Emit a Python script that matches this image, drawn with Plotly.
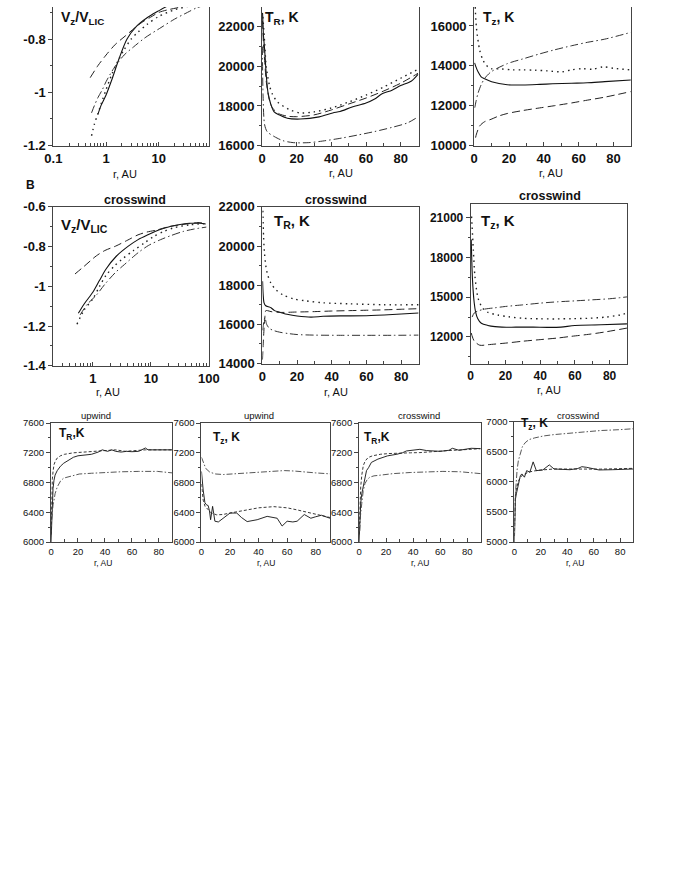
import plotly.graph_objects as go

W, H = 680, 880

# ---------------- DATA ----------------
# Row A (upwind) : V_z/V_LIC vs r (log)
a1_solid_r = [0.7, 0.8, 1.0, 1.3, 1.76, 2.5, 3.84, 6, 9.6, 15, 25, 40, 60]
a1_solid_v = [-1.083, -1.05, -1.01, -0.95, -0.874, -0.80, -0.751, -0.72, -0.696, -0.675, -0.66, -0.65, -0.645]
a1_dash_r = [0.5, 0.7, 1.0, 1.5, 2.33, 3.55, 5, 7, 10, 15, 22, 40, 60]
a1_dash_v = [-0.945, -0.90, -0.86, -0.82, -0.788, -0.757, -0.735, -0.718, -0.70, -0.69, -0.683, -0.67, -0.66]
a1_dot_r = [0.53, 0.6, 0.7, 0.85, 1.0, 1.3, 1.7, 2.2, 3, 4, 6, 10, 20, 40, 60]
a1_dot_v = [-1.163, -1.12, -1.08, -1.03, -0.99, -0.93, -0.88, -0.84, -0.80, -0.775, -0.745, -0.715, -0.69, -0.675, -0.665]
a1_dd_r = [0.53, 0.6, 0.7, 0.85, 1.0, 1.4, 2.2, 3.3, 5.5, 11, 20, 35, 52, 70]
a1_dd_v = [-1.077, -1.05, -1.02, -0.99, -0.96, -0.91, -0.86, -0.83, -0.795, -0.757, -0.725, -0.70, -0.683, -0.675]

# Row A : T_R
a2_solid_r = [0.3, 0.8, 1.5, 2.5, 3.4, 5, 7, 10, 14.6, 22, 33, 40.8, 45, 52, 60, 65, 69, 75, 80, 86, 90]
a2_solid_t = [22700, 21600, 20850, 19500, 18700, 18100, 17700, 17550, 17380, 17340, 17450, 17650, 17720, 17950, 18150, 18350, 18600, 18800, 19030, 19250, 19600]
a2_dash_r = [0.3, 0.8, 1.5, 2.5, 4, 6, 10, 15, 20, 30, 40, 50, 60, 70, 80, 90]
a2_dash_t = [22300, 21200, 20300, 19200, 18400, 17900, 17600, 17480, 17460, 17550, 17800, 18100, 18400, 18750, 19150, 19650]
a2_dot_r = [0.5, 1.5, 2.4, 4.3, 6, 9, 16.5, 22, 30, 40, 50, 60, 70, 80, 90]
a2_dot_t = [22500, 21200, 20000, 19030, 18600, 18200, 17790, 17650, 17700, 17900, 18200, 18550, 18950, 19400, 19850]
a2_dd_r = [0.2, 0.6, 1.5, 3, 7, 12, 18, 27, 35, 46, 55, 65, 75, 84, 90]
a2_dd_t = [21000, 18500, 17050, 16700, 16460, 16250, 16150, 16150, 16230, 16380, 16530, 16710, 16920, 17150, 17450]

# Row A : T_z
a3_solid_r = [0.2, 1, 2.2, 4, 6, 10, 19, 28, 37.6, 45, 56, 65, 75, 90]
a3_solid_t = [14150, 13950, 13700, 13450, 13350, 13200, 13050, 13040, 13070, 13100, 13130, 13150, 13210, 13290]
a3_dot_r = [0.3, 1.3, 3.2, 5, 6.9, 9.7, 15, 22, 28, 35, 42, 50.6, 56, 62, 68, 74, 80, 90]
a3_dot_t = [17500, 15900, 14770, 14300, 14030, 13860, 13850, 13800, 13800, 13780, 13750, 13700, 13800, 13860, 13830, 13950, 13880, 13800]
a3_dd_r = [0.3, 1, 2.2, 4, 6, 9.7, 19, 28, 37.6, 46, 56, 65, 75, 90]
a3_dd_t = [11900, 12200, 12630, 13050, 13370, 13700, 14110, 14350, 14600, 14800, 15010, 15180, 15340, 15680]
a3_dash_r = [0.8, 1.3, 3.2, 6, 9.7, 14, 19, 28, 37.6, 46, 56, 65, 75, 90]
a3_dash_t = [10400, 10580, 10990, 11200, 11320, 11480, 11610, 11760, 11890, 12000, 12140, 12280, 12430, 12710]

# Row B (crosswind) : V_z/V_LIC
b1_solid_r = [0.56, 0.7, 1, 1.3, 1.67, 2.5, 4.07, 6, 8.8, 14, 21.5, 30, 46, 70, 88]
b1_solid_v = [-1.136, -1.09, -1.029, -0.97, -0.914, -0.85, -0.798, -0.765, -0.741, -0.715, -0.699, -0.69, -0.683, -0.683, -0.686]
b1_dash_r = [0.49, 0.7, 1.14, 1.6, 2.45, 4, 5.98, 8.5, 12.9, 20, 31.6, 50, 68, 88]
b1_dash_v = [-0.938, -0.90, -0.847, -0.82, -0.798, -0.767, -0.741, -0.727, -0.716, -0.70, -0.691, -0.683, -0.679, -0.684]
b1_dot_r = [0.53, 0.7, 1, 1.3, 1.67, 2.3, 3.16, 5, 7.7, 11, 16.6, 25, 46, 88]
b1_dot_v = [-1.191, -1.12, -1.062, -1.0, -0.946, -0.90, -0.864, -0.82, -0.782, -0.75, -0.724, -0.705, -0.691, -0.684]
b1_dd_r = [0.6, 0.8, 1.14, 1.6, 2.45, 3.5, 6, 9, 14.7, 22, 35.9, 55, 90]
b1_dd_v = [-1.144, -1.09, -1.045, -0.99, -0.93, -0.89, -0.831, -0.795, -0.765, -0.745, -0.724, -0.712, -0.702]

# Row B : T_R
b2_solid_r = [0.15, 0.5, 1, 2, 3.5, 5, 7, 10, 15, 20, 28, 35, 45, 60, 75, 90]
b2_solid_t = [18200, 17500, 17100, 16950, 16900, 16850, 16700, 16620, 16500, 16430, 16370, 16410, 16430, 16440, 16500, 16580]
b2_dash_r = [0.1, 0.5, 1, 1.5, 2, 3, 5, 10, 20, 30, 40, 50, 60, 70, 80, 90]
b2_dash_t = [14200, 15000, 15800, 16400, 16700, 16700, 16650, 16610, 16630, 16650, 16680, 16700, 16720, 16740, 16770, 16800]
b2_dot_r = [0.3, 0.7, 1.2, 2, 3, 5, 8, 12, 18, 25, 35, 50, 70, 90]
b2_dot_t = [21800, 20500, 19700, 19000, 18550, 18100, 17750, 17500, 17300, 17200, 17100, 17050, 17000, 17000]
b2_dd_r = [0.2, 0.8, 1.5, 2.5, 4, 6, 10, 15, 20, 30, 45, 60, 75, 90]
b2_dd_t = [15700, 16100, 16350, 16000, 15800, 15700, 15600, 15530, 15480, 15450, 15440, 15440, 15440, 15450]

# Row B : T_z
b3_solid_r = [0.3, 1, 2, 2.8, 4, 6.1, 9.9, 14, 18, 26, 36, 45, 52, 60, 75, 90]
b3_solid_t = [19350, 16380, 14600, 13900, 13400, 13040, 12870, 12780, 12740, 12740, 12740, 12720, 12740, 12870, 12920, 12990]
b3_dot_r = [0.5, 1.5, 2.4, 4.3, 7, 10, 15.5, 22, 30, 40, 49, 58, 68, 78, 86, 90]
b3_dot_t = [21080, 18600, 16630, 14900, 14150, 13850, 13660, 13520, 13410, 13370, 13360, 13380, 13410, 13500, 13660, 13800]
b3_dd_r = [0.8, 2, 4, 8, 14, 20, 30, 40, 50, 60, 70, 80, 90]
b3_dd_t = [13500, 13800, 13950, 14100, 14200, 14300, 14420, 14550, 14650, 14720, 14800, 14880, 15020]
b3_dash_r = [0.3, 1, 2, 5.2, 10, 21, 30, 40, 50, 58, 68, 77, 90]
b3_dash_t = [12300, 12000, 11700, 11380, 11420, 11550, 11680, 11800, 11920, 12050, 12200, 12370, 12670]

# Row C : upwind T_R
c1_solid_r = [0, 0.3, 0.6, 1, 1.5, 2.2, 3, 4.6, 7, 9.4, 13, 16.6, 20, 25, 30, 35, 38, 42, 45, 48, 52, 56, 60, 65, 68, 70, 72, 76, 80, 85, 90]
c1_solid_t = [6000, 6200, 6450, 6600, 6720, 6830, 6900, 6960, 7020, 7060, 7100, 7140, 7160, 7170, 7180, 7210, 7240, 7220, 7240, 7220, 7210, 7220, 7215, 7220, 7250, 7265, 7240, 7240, 7245, 7240, 7240]
c1_dash_r = [0, 0.3, 0.6, 1, 1.5, 2.2, 3.2, 4.6, 7, 10, 16.6, 25, 31, 40, 48, 55, 62, 70, 80, 90]
c1_dash_t = [6100, 6450, 6700, 6850, 6950, 7040, 7090, 7130, 7160, 7180, 7200, 7210, 7225, 7230, 7240, 7220, 7230, 7240, 7240, 7240]
c1_dd_r = [0.5, 1, 1.5, 2.2, 3, 4.6, 7, 9.4, 15, 21, 30, 40, 52, 65, 79, 90]
c1_dd_t = [6300, 6450, 6500, 6560, 6650, 6740, 6820, 6860, 6890, 6915, 6925, 6935, 6945, 6950, 6950, 6930]

# Row C : upwind T_z
c2_solid_r = [0, 0.6, 1.2, 2.4, 3.5, 4.7, 5.6, 6.4, 7.2, 7.8, 8.6, 9.4, 11.8, 15.3, 18, 20, 24.7, 28, 32, 39, 46, 53, 56.5, 60, 64, 67, 72, 76.6, 80, 84, 90]
c2_solid_t = [6950, 6800, 6700, 6530, 6500, 6490, 6420, 6300, 6400, 6480, 6380, 6280, 6270, 6320, 6370, 6390, 6390, 6330, 6275, 6300, 6345, 6320, 6215, 6280, 6270, 6280, 6370, 6320, 6340, 6360, 6320]
c2_dash_r = [0, 0.6, 1.2, 2.5, 4.7, 7, 10.6, 15, 20, 32, 40, 50.6, 60, 67, 75, 82, 90]
c2_dash_t = [6780, 6650, 6564, 6480, 6432, 6390, 6366, 6370, 6390, 6432, 6460, 6476, 6460, 6432, 6400, 6370, 6330]
c2_dd_r = [0, 1.2, 3, 5.9, 10, 15.3, 25, 34, 45, 58, 65, 72, 80, 90]
c2_dd_t = [7140, 7071, 6990, 6939, 6915, 6908, 6920, 6939, 6950, 6961, 6955, 6939, 6930, 6917]

# Row C : crosswind T_R
c3_solid_r = [0, 0.5, 1.2, 2, 3.1, 4.2, 5.5, 7, 9.1, 13.9, 21, 28, 32, 35, 40, 45, 50, 54.6, 60, 66.5, 69, 74, 78, 83, 90]
c3_solid_t = [6000, 6300, 6520, 6650, 6740, 6850, 6961, 7000, 7071, 7115, 7159, 7181, 7200, 7225, 7240, 7247, 7230, 7225, 7220, 7234, 7261, 7234, 7245, 7261, 7256]
c3_dash_r = [0, 0.5, 1.2, 2, 3.1, 4.5, 6.7, 10, 16, 22, 30.6, 38, 45, 52, 59, 66, 74, 82, 90]
c3_dash_t = [6100, 6500, 6740, 6900, 7027, 7090, 7137, 7160, 7181, 7190, 7190, 7200, 7203, 7215, 7225, 7230, 7238, 7245, 7256]
c3_dd_r = [0.5, 1, 2, 3, 4.3, 6, 7.9, 11, 16, 25, 37.8, 50, 62, 75, 83, 90]
c3_dd_t = [6150, 6350, 6520, 6680, 6784, 6840, 6872, 6890, 6900, 6920, 6935, 6945, 6950, 6945, 6935, 6920]

# Row C : crosswind T_z
c4_solid_r = [0, 0.7, 1.5, 3.2, 4.5, 5.6, 7.6, 9.3, 11.7, 14.2, 16.6, 21.5, 26.4, 30, 36, 42, 48, 51, 54.5, 60, 64, 74, 82, 90]
c4_solid_t = [5000, 5700, 5800, 5967, 6100, 6130, 6076, 6185, 6158, 6330, 6185, 6196, 6280, 6212, 6210, 6200, 6220, 6250, 6240, 6210, 6196, 6200, 6205, 6212]
c4_dash_r = [0, 0.7, 1.5, 3.2, 5.6, 10.5, 15, 20, 30, 40, 54.5, 65, 75, 90]
c4_dash_t = [5100, 5750, 5880, 6022, 6103, 6158, 6180, 6195, 6212, 6210, 6200, 6210, 6215, 6223]
c4_dd_r = [0, 0.8, 2, 3, 4.4, 6, 8.1, 11, 15.4, 22, 30, 40, 54.5, 65, 79, 90]
c4_dd_t = [5300, 5800, 6185, 6350, 6457, 6580, 6647, 6700, 6728, 6760, 6783, 6805, 6837, 6850, 6864, 6880]

# ---------------- STYLES ----------------
FONT = "Liberation Sans, Arial, sans-serif"
INK = "#111"
STY = {
    "solid": dict(color="#111", width=1.1, dash="solid"),
    "dash": dict(color="#222", width=1.0, dash="8px,4px"),
    "dot": dict(color="#222", width=1.4, dash="1.5px,4px"),
    "dd": dict(color="#333", width=1.0, dash="8px,3px,1.5px,3px"),
    "cdash": dict(color="#222", width=0.9, dash="3px,2px"),
    "cdd": dict(color="#444", width=0.9, dash="6px,2px,1.5px,2px"),
    "csolid": dict(color="#111", width=0.9, dash="solid"),
}

# panel geometry in pixels: left, right, top, bottom
panels = [
    dict(g=(45.7, 205.7, 0, 141), xtype="log", xr=[-1, 1.946], yr=[-1.2, -1.2 + 141 / 271.0],
         yt=[-1.2, -1.0, -0.8], ytt=["-1.2", "-1", "-0.8"], ymin=0.1, top=False, fs=13,
         series=[(a1_solid_r, a1_solid_v, "solid"), (a1_dash_r, a1_dash_v, "dash"),
                 (a1_dot_r, a1_dot_v, "dot"), (a1_dd_r, a1_dd_v, "dd")], spline=True),
    dict(g=(260.7, 422.3, 0, 141), xtype="linear", xr=[0, 90.5], yr=[16000, 16000 + 141 / 20.15 * 1000],
         yt=[16000, 18000, 20000, 22000], ytt=None, ymin=1000, top=False, fs=13,
         series=[(a2_solid_r, a2_solid_t, "solid"), (a2_dash_r, a2_dash_t, "dash"),
                 (a2_dot_r, a2_dot_t, "dot"), (a2_dd_r, a2_dd_t, "dd")], spline=True),
    dict(g=(479.3, 640.7, 0, 141), xtype="linear", xr=[0, 90], yr=[10000, 10000 + 141 / 20.28 * 1000],
         yt=[10000, 12000, 14000, 16000], ytt=None, ymin=1000, top=False, fs=13,
         series=[(a3_solid_r, a3_solid_t, "solid"), (a3_dash_r, a3_dash_t, "dash"),
                 (a3_dot_r, a3_dot_t, "dot"), (a3_dd_r, a3_dd_t, "dd")], spline=True),
    dict(g=(45.7, 206, 203.3, 365), xtype="log", xr=[-0.683, 2.0], yr=[-1.4, -0.6],
         yt=[-1.4, -1.2, -1.0, -0.8, -0.6], ytt=["-1.4", "-1.2", "-1", "-0.8", "-0.6"], ymin=0.1, top=True, fs=13,
         series=[(b1_solid_r, b1_solid_v, "solid"), (b1_dash_r, b1_dash_v, "dash"),
                 (b1_dot_r, b1_dot_v, "dot"), (b1_dd_r, b1_dd_v, "dd")], spline=True),
    dict(g=(261, 422, 203.3, 362.7), xtype="linear", xr=[0, 90], yr=[14000, 22000],
         yt=[14000, 16000, 18000, 20000, 22000], ytt=None, ymin=1000, top=True, fs=13,
         series=[(b2_solid_r, b2_solid_t, "solid"), (b2_dash_r, b2_dash_t, "dash"),
                 (b2_dot_r, b2_dot_t, "dot"), (b2_dd_r, b2_dd_t, "dd")], spline=True),
    dict(g=(475.7, 636.7, 200.7, 362.7), xtype="linear", xr=[0, 90], yr=[10000, 22000],
         yt=[12000, 15000, 18000, 21000], ytt=None, ymin=1500, top=True, fs=12,
         series=[(b3_solid_r, b3_solid_t, "solid"), (b3_dash_r, b3_dash_t, "dash"),
                 (b3_dot_r, b3_dot_t, "dot"), (b3_dd_r, b3_dd_t, "dd")], spline=True),
    dict(g=(43.3, 168.3, 423.3, 544.3), xtype="linear", xr=[0, 90], yr=[6000, 7600],
         yt=[6000, 6400, 6800, 7200, 7600], ytt=None, ymin=200, top=True, fs=9.5,
         series=[(c1_solid_r, c1_solid_t, "csolid"), (c1_dash_r, c1_dash_t, "cdash"),
                 (c1_dd_r, c1_dd_t, "cdd")], spline=False),
    dict(g=(198.3, 330.7, 423.3, 544.3), xtype="linear", xr=[0, 90], yr=[6000, 7600],
         yt=[6000, 6400, 6800, 7200, 7600], ytt=None, ymin=200, top=True, fs=9.5,
         series=[(c2_solid_r, c2_solid_t, "csolid"), (c2_dash_r, c2_dash_t, "cdash"),
                 (c2_dd_r, c2_dd_t, "cdd")], spline=False),
    dict(g=(360.7, 486, 423.3, 544.3), xtype="linear", xr=[0, 90], yr=[6000, 7600],
         yt=[6000, 6400, 6800, 7200, 7600], ytt=None, ymin=200, top=True, fs=9.5,
         series=[(c3_solid_r, c3_solid_t, "csolid"), (c3_dash_r, c3_dash_t, "cdash"),
                 (c3_dd_r, c3_dd_t, "cdd")], spline=False),
    dict(g=(520.7, 643.3, 421.7, 544.3), xtype="linear", xr=[0, 90], yr=[5000, 7000],
         yt=[5000, 5500, 6000, 6500, 7000], ytt=None, ymin=250, top=True, fs=9.5,
         series=[(c4_solid_r, c4_solid_t, "csolid"), (c4_dash_r, c4_dash_t, "cdash"),
                 (c4_dd_r, c4_dd_t, "cdd")], spline=False),
]

fig = go.Figure()
layout = dict(width=W, height=H, margin=dict(l=0, r=0, t=0, b=0),
              paper_bgcolor="white", plot_bgcolor="white", showlegend=False,
              font=dict(family=FONT, color=INK, size=12))

for i, p in enumerate(panels, 1):
    l, r, t, b = p["g"]
    sfx = "" if i == 1 else str(i)
    bold = "bold" if p["fs"] > 11 else "normal"
    tf = dict(family=FONT, size=p["fs"], color=INK, weight=bold)
    xa = dict(domain=[l / W, r / W], range=p["xr"], type=p["xtype"], anchor="y" + sfx,
              showgrid=False, zeroline=False, showline=True, linecolor="#444", linewidth=1,
              mirror=p["top"], ticks="inside", ticklen=4, tickcolor="#444", tickfont=tf,
              ticklabelstandoff=1)
    if p["xtype"] == "log":
        xa.update(dtick=1, minor=dict(dtick="D1", ticks="inside", ticklen=3, tickcolor="#444"))
    else:
        xa.update(dtick=20, tick0=0, tickformat="d",
                  minor=dict(dtick=10, tick0=0, ticks="inside", ticklen=3, tickcolor="#444"))
    ytt = p["ytt"] if p["ytt"] else [str(v) for v in p["yt"]]
    ya = dict(domain=[1 - b / H, 1 - t / H], range=p["yr"], anchor="x" + sfx,
              showgrid=False, zeroline=False, showline=True, linecolor="#444", linewidth=1,
              mirror=True, ticks="outside", ticklen=4, tickcolor="#444", tickfont=tf,
              tickvals=p["yt"], ticktext=ytt,
              minor=dict(dtick=p["ymin"], tick0=0, ticks="outside", ticklen=2, tickcolor="#444"))
    layout["xaxis" + sfx] = xa
    layout["yaxis" + sfx] = ya
    for xs, ys, st in p["series"]:
        fig.add_trace(go.Scatter(x=xs, y=ys, mode="lines", xaxis="x" + sfx, yaxis="y" + sfx,
                                 line=dict(**STY[st], shape="spline" if p["spline"] else "linear",
                                           smoothing=0.8 if p["spline"] else None),
                                 hoverinfo="skip"))

ann = []
def A(x, y, text, size, bold=True, xanchor="left", yanchor="middle"):
    ann.append(dict(xref="paper", yref="paper", x=x / W, y=1 - y / H, text=text, showarrow=False,
                    xanchor=xanchor, yanchor=yanchor,
                    font=dict(family=FONT, size=size, color=INK, weight="bold" if bold else "normal")))

# Row A labels (at the very top of the picture)
A(52, 0, "V<sub>z</sub>/V<sub>LIC</sub>", 14, yanchor="top")
A(262, 0, "T<sub>R</sub>, K", 14, yanchor="top")
A(486, 0, "T<sub>z</sub>, K", 14, yanchor="top")
A(120, 170, "r, AU", 11, bold=False, xanchor="center")
A(342, 169, "r, AU", 11, bold=False, xanchor="center")
A(558, 169, "r, AU", 11, bold=False, xanchor="center")

# Row B
A(15, 181, "B", 12)
A(130, 196.5, "crosswind", 12.5, xanchor="center")
A(337, 196.5, "crosswind", 12.5, xanchor="center")
A(557, 192.5, "crosswind", 12.5, xanchor="center")
A(52, 222, "V<sub>z</sub>/V<sub>LIC</sub>", 15)
A(271, 218, "T<sub>R</sub>, K", 15)
A(484, 218, "T<sub>z</sub>, K", 15)
A(102, 391.5, "r, AU", 11, bold=False, xanchor="center")
A(337, 391.5, "r, AU", 11, bold=False, xanchor="center")
A(556, 389.5, "r, AU", 11, bold=False, xanchor="center")

# Row C
A(90, 416, "upwind", 9.5, bold=False, xanchor="center")
A(258, 416, "upwind", 9.5, bold=False, xanchor="center")
A(422, 416, "crosswind", 9.5, bold=False, xanchor="center")
A(586, 416, "crosswind", 9.5, bold=False, xanchor="center")
A(49, 434, "T<sub>R</sub>,K", 12)
A(208, 438, "T<sub>z</sub>, K", 12)
A(364, 438, "T<sub>R</sub>,K", 12)
A(525, 424, "T<sub>z</sub>, K", 12)
A(97, 566, "r, AU", 8.5, bold=False, xanchor="center")
A(265, 566, "r, AU", 8.5, bold=False, xanchor="center")
A(423, 566, "r, AU", 8.5, bold=False, xanchor="center")
A(583, 566, "r, AU", 8.5, bold=False, xanchor="center")

layout["annotations"] = ann
fig.update_layout(**layout)
fig.write_html("out.html", config={"displayModeBar": False},
               post_script="document.body.style.margin='0';document.body.style.padding='0';")
